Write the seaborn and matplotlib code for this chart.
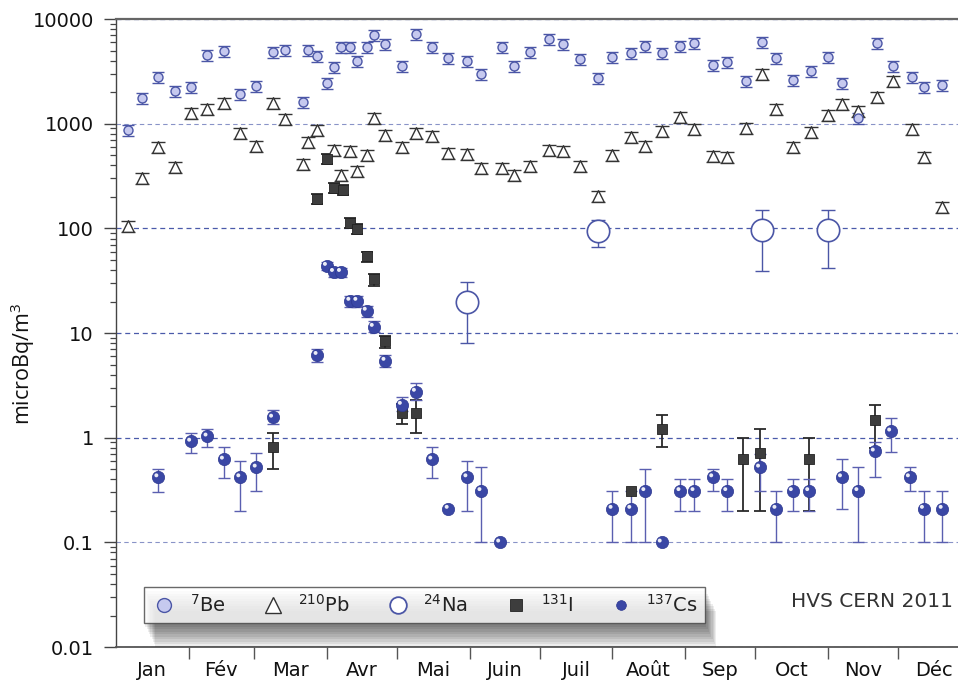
import numpy as np
import pandas as pd
import matplotlib
matplotlib.use("Agg")
import matplotlib.pyplot as plt
import matplotlib.patheffects as pe
from matplotlib.lines import Line2D
from matplotlib.transforms import ScaledTranslation
import seaborn as sns

# ---------------- data (day of year 2011, microBq/m3) ----------------
be7_day = [5, 11, 18, 25, 32, 39, 46, 53, 60, 67, 72, 80, 82, 86, 90, 93, 96, 100, 103, 107,
           110, 115, 122, 128, 135, 142, 150, 156, 165, 170, 177, 185, 191, 198, 206, 212, 220,
           226, 233, 241, 247, 255, 261, 269, 276, 282, 289, 297, 304, 310, 317, 325, 332, 340,
           345, 353]
be7_val = [870, 1760, 2800, 2050, 2250, 4530, 4950, 1925, 2290, 4840, 5060, 1615, 5060, 4430,
           2450, 3480, 5400, 5400, 3970, 5400, 7030, 5770, 3560, 7200, 5400, 4250, 3970, 2990,
           5400, 3560, 4840, 6440, 5770, 4150, 2740, 4340, 4740, 5520, 4740, 5520, 5900, 3640,
           3890, 2560, 6040, 4250, 2620, 3190, 4340, 2450, 1135, 5900, 3560, 2800, 2250, 2340]
be7_relerr = 0.12

pb210_day = [5, 11, 18, 25, 32, 39, 46, 53, 60, 67, 72, 80, 82, 86, 93, 96, 100, 103, 107, 110,
             115, 122, 128, 135, 142, 150, 156, 165, 170, 177, 185, 191, 198, 206, 212, 220, 226,
             233, 241, 247, 255, 261, 269, 276, 282, 289, 297, 304, 310, 317, 325, 332, 340, 345,
             353]
pb210_val = [106, 304, 601, 387, 1268, 1385, 1580, 817, 614, 1580, 1110, 413, 670, 873, 562, 324,
             550, 355, 504, 1135, 782, 601, 817, 765, 526, 515, 379, 379, 324, 395, 562, 550, 395,
             205, 504, 748, 614, 853, 1161, 892, 493, 482, 912, 2990, 1385, 601, 835, 1214, 1545,
             1324, 1803, 2560, 892, 482, 161]
pb210_relerr = 0.12

na24_day = [150, 206, 276, 304]
na24_val = [19.6, 93.5, 96, 96]
na24_lo = [8.1, 65.7, 39, 42]
na24_hi = [30.5, 119, 151, 150]

i131_day = [67, 86, 90, 93, 97, 100, 103, 107, 110, 115, 122, 128, 220, 233, 268, 275, 296, 324]
i131_val = [0.81, 191, 461, 244, 233, 113, 99, 54.8, 33, 8.3, 1.74, 1.74, 0.307, 1.22, 0.62,
            0.72, 0.62, 1.46]
i131_lo = [0.5, 170, 410, 217, 207, 100, 88, 48, 28.3, 7.2, 1.34, 1.12, np.nan, 0.81, 0.2, 0.2,
           0.2, 0.8]
i131_hi = [1.12, 214, 516, 273, 261, 126, 111, 60, 36.6, 9.3, 2.1, 2.3, np.nan, 1.63, 1.0, 1.22,
           1.0, 2.07]

cs137_day = [18, 32, 39, 46, 53, 60, 67, 86, 90, 93, 96, 100, 103, 107, 110, 115, 122, 128, 135,
             142, 150, 156, 164, 212, 220, 226, 233, 241, 247, 255, 261, 275, 282, 289, 296, 310,
             317, 324, 331, 339, 345, 353]
cs137_val = [0.42, 0.92, 1.03, 0.62, 0.42, 0.52, 1.56, 6.2, 44, 38.5, 38.5, 20.4, 20.4, 16.4,
             11.5, 5.45, 2.07, 2.76, 0.62, 0.21, 0.42, 0.31, 0.10, 0.21, 0.21, 0.31, 0.10, 0.31,
             0.31, 0.42, 0.31, 0.52, 0.21, 0.31, 0.31, 0.42, 0.31, 0.74, 1.15, 0.42, 0.21, 0.21]
cs137_lo = [0.3, 0.72, 0.81, 0.41, 0.2, 0.31, 1.35, 5.3, 40, 34.5, 34.5, 17.9, 17.9, 14.3, 10.3,
            4.7, 1.8, 2.3, 0.41, np.nan, 0.2, 0.1, np.nan, 0.1, 0.1, 0.1, np.nan, 0.2, 0.2, 0.31,
            0.2, 0.31, 0.1, 0.2, 0.2, 0.21, 0.1, 0.42, 0.73, 0.31, 0.1, 0.1]
cs137_hi = [0.5, 1.12, 1.22, 0.81, 0.6, 0.72, 1.82, 7.1, 48, 42, 42, 22.7, 22.7, 18, 13.0, 6.1,
            2.44, 3.34, 0.81, np.nan, 0.6, 0.52, np.nan, 0.31, 0.31, 0.5, np.nan, 0.4, 0.4, 0.5,
            0.4, 0.7, 0.31, 0.4, 0.4, 0.62, 0.52, 0.9, 1.55, 0.52, 0.31, 0.31]

month_start = [0, 31, 59, 90, 120, 151, 181, 212, 243, 273, 304, 334, 365]
month_labels = ["Jan", "Fév", "Mar", "Avr", "Mai", "Juin", "Juil", "Août", "Sep", "Oct", "Nov", "Déc"]
ytick_vals = [0.01, 0.1, 1, 10, 100, 1000, 10000]
ytick_labels = ["0.01", "0.1", "1", "10", "100", "1000", "10000"]

# ---------------- style ----------------
sns.set_style("ticks")
plt.rcParams["font.family"] = ["DejaVu Sans"]
plt.rcParams["mathtext.default"] = "regular"

BLUE_EDGE = "#4b56a6"
BE_FACE = "#c6c9ef"
CS_FACE = "#3a47a5"
CS_ERR = "#5a5fb0"
DARK = "#333333"
I_FACE = "#3d3d3d"
GRID = "#4a5aaa"

fig = plt.figure(figsize=(9.58, 6.87), dpi=100)
ax = fig.add_axes([0.1211, 0.0582, 0.892, 0.9141])
ax.set_yscale("log")


def draw_err(x, y, lo, hi, color, capsize, lw=1.0):
    x = np.asarray(x, float)
    y = np.asarray(y, float)
    lo = np.asarray(lo, float)
    hi = np.asarray(hi, float)
    m = ~np.isnan(lo)
    ax.errorbar(x[m], y[m], yerr=[y[m] - lo[m], hi[m] - y[m]], fmt="none",
                ecolor=color, elinewidth=lw, capsize=capsize, capthick=lw, zorder=2)


be = pd.DataFrame({"day": be7_day, "val": be7_val})
pb = pd.DataFrame({"day": pb210_day, "val": pb210_val})
na = pd.DataFrame({"day": na24_day, "val": na24_val})
io = pd.DataFrame({"day": i131_day, "val": i131_val})
cs = pd.DataFrame({"day": cs137_day, "val": cs137_val})

# error bars
draw_err(be.day, be.val, be.val * (1 - be7_relerr), be.val * (1 + be7_relerr), BLUE_EDGE, 4.3)
draw_err(pb.day, pb.val, pb.val * (1 - pb210_relerr), pb.val * (1 + pb210_relerr), DARK, 4.8)
draw_err(na.day, na.val, na24_lo, na24_hi, BLUE_EDGE, 5.0)
draw_err(io.day, io.val, i131_lo, i131_hi, "#2a2a2a", 4.6, lw=1.3)
draw_err(cs.day, cs.val, cs137_lo, cs137_hi, CS_ERR, 4.6)

# markers
sns.scatterplot(data=pb, x="day", y="val", ax=ax, marker="^", s=70, color="white",
                edgecolor=DARK, linewidth=1.0, zorder=3, legend=False)
sns.scatterplot(data=be, x="day", y="val", ax=ax, marker="o", s=42, color=BE_FACE,
                edgecolor=BLUE_EDGE, linewidth=1.0, zorder=4, legend=False)
sns.scatterplot(data=na, x="day", y="val", ax=ax, marker="o", s=260, color="white",
                edgecolor=BLUE_EDGE, linewidth=1.2, zorder=3, legend=False)
sns.scatterplot(data=io, x="day", y="val", ax=ax, marker="s", s=62, color=I_FACE,
                edgecolor="#222222", linewidth=0.6, zorder=4, legend=False)
sns.scatterplot(data=cs, x="day", y="val", ax=ax, marker="o", s=78, color=CS_FACE,
                edgecolor="#2c3790", linewidth=0.5, zorder=5, legend=False)
hl = ax.transData + ScaledTranslation(-1.8 / 100, 1.8 / 100, fig.dpi_scale_trans)
sns.scatterplot(data=cs, x="day", y="val", ax=ax, marker="o", s=8, color="white",
                edgecolor="none", alpha=0.9, zorder=6, legend=False, transform=hl)

# axes
ax.set_xlim(month_start[0], month_start[-1])
ax.set_ylim(0.01, 10000)
ax.set_yticks(ytick_vals, labels=ytick_labels)
ax.yaxis.set_minor_locator(matplotlib.ticker.LogLocator(base=10, subs=np.arange(2, 10)))
ax.yaxis.set_minor_formatter(matplotlib.ticker.NullFormatter())
ax.tick_params(axis="y", which="major", length=9, width=1, direction="out", labelsize=14,
               pad=7, colors="#444444", labelcolor="#111111")
ax.tick_params(axis="y", which="minor", length=4.5, width=0.9, direction="out", colors="#444444")

ax.set_xticks(month_start[1:-1])
ax.set_xticklabels([])
mids = [(a + b) / 2 for a, b in zip(month_start[:-1], month_start[1:])]
ax.set_xticks(mids, labels=month_labels, minor=True)
ax.tick_params(axis="x", which="major", length=8.5, width=1, direction="out", colors="#555555")
ax.tick_params(axis="x", which="minor", length=0, labelsize=14, pad=10, labelcolor="#111111")

ax.yaxis.grid(True, which="major", linestyle=(0, (4, 3)), color=GRID, linewidth=0.9)
ax.xaxis.grid(False)
ax.set_axisbelow(True)
for val, gl in zip(ytick_vals, ax.yaxis.get_gridlines()):
    if val in (0.1, 1000):
        gl.set_alpha(0.65)
        gl.set_linewidth(0.8)

for side in ["top", "bottom", "left", "right"]:
    ax.spines[side].set_visible(True)
ax.spines["top"].set_color("#666666")
ax.spines["top"].set_linewidth(1.6)
ax.spines["bottom"].set_color("#555555")
ax.spines["bottom"].set_linewidth(1.3)
ax.spines["left"].set_color("#444444")
ax.spines["left"].set_linewidth(1.0)

ax.set_xlabel("")
ax.set_ylabel("microBq/m$^3$", fontsize=15.5, color="#111111", family=["Open Sans", "DejaVu Sans"])
ax.yaxis.set_label_coords(-0.092, 0.45)

# legend
handles = [
    Line2D([], [], ls="none", marker="o", ms=10, mfc=BE_FACE, mec=BLUE_EDGE, mew=1.0),
    Line2D([], [], ls="none", marker="^", ms=12, mfc="white", mec=DARK, mew=1.0),
    Line2D([], [], ls="none", marker="o", ms=12, mfc="white", mec=BLUE_EDGE, mew=1.3),
    Line2D([], [], ls="none", marker="s", ms=9, mfc=I_FACE, mec="#222222", mew=0.6),
    Line2D([], [], ls="none", marker="o", ms=7, mfc=CS_FACE, mec="#2c3790", mew=0.5),
]
labels = ["$^{7}$Be", "$^{210}$Pb", "$^{24}$Na", "$^{131}$I", "$^{137}$Cs"]
leg = ax.legend(handles, labels, loc="upper left", bbox_to_anchor=(0.0328, 0.0954),
                borderaxespad=0, ncol=5, frameon=True, fancybox=False, fontsize=14,
                handlelength=1.4, handletextpad=0.6, columnspacing=1.75, borderpad=0.35)
frame = leg.get_frame()
frame.set_edgecolor("#444444")
frame.set_linewidth(1.0)
frame.set_facecolor("white")
shadow_fx = [pe.SimplePatchShadow(offset=(1 + 0.9 * k, -3 - 1.8 * k), shadow_rgbFace="black",
                                  alpha=0.07) for k in range(9)]
frame.set_path_effects(shadow_fx + [pe.Normal()])
for t in leg.get_texts():
    t.set_color("#222222")

ax.text(0.980, 0.072, "HVS CERN 2011", transform=ax.transAxes, ha="right", va="center",
        fontsize=14.5, color="#333333")

fig.savefig("out.png", dpi=100)
